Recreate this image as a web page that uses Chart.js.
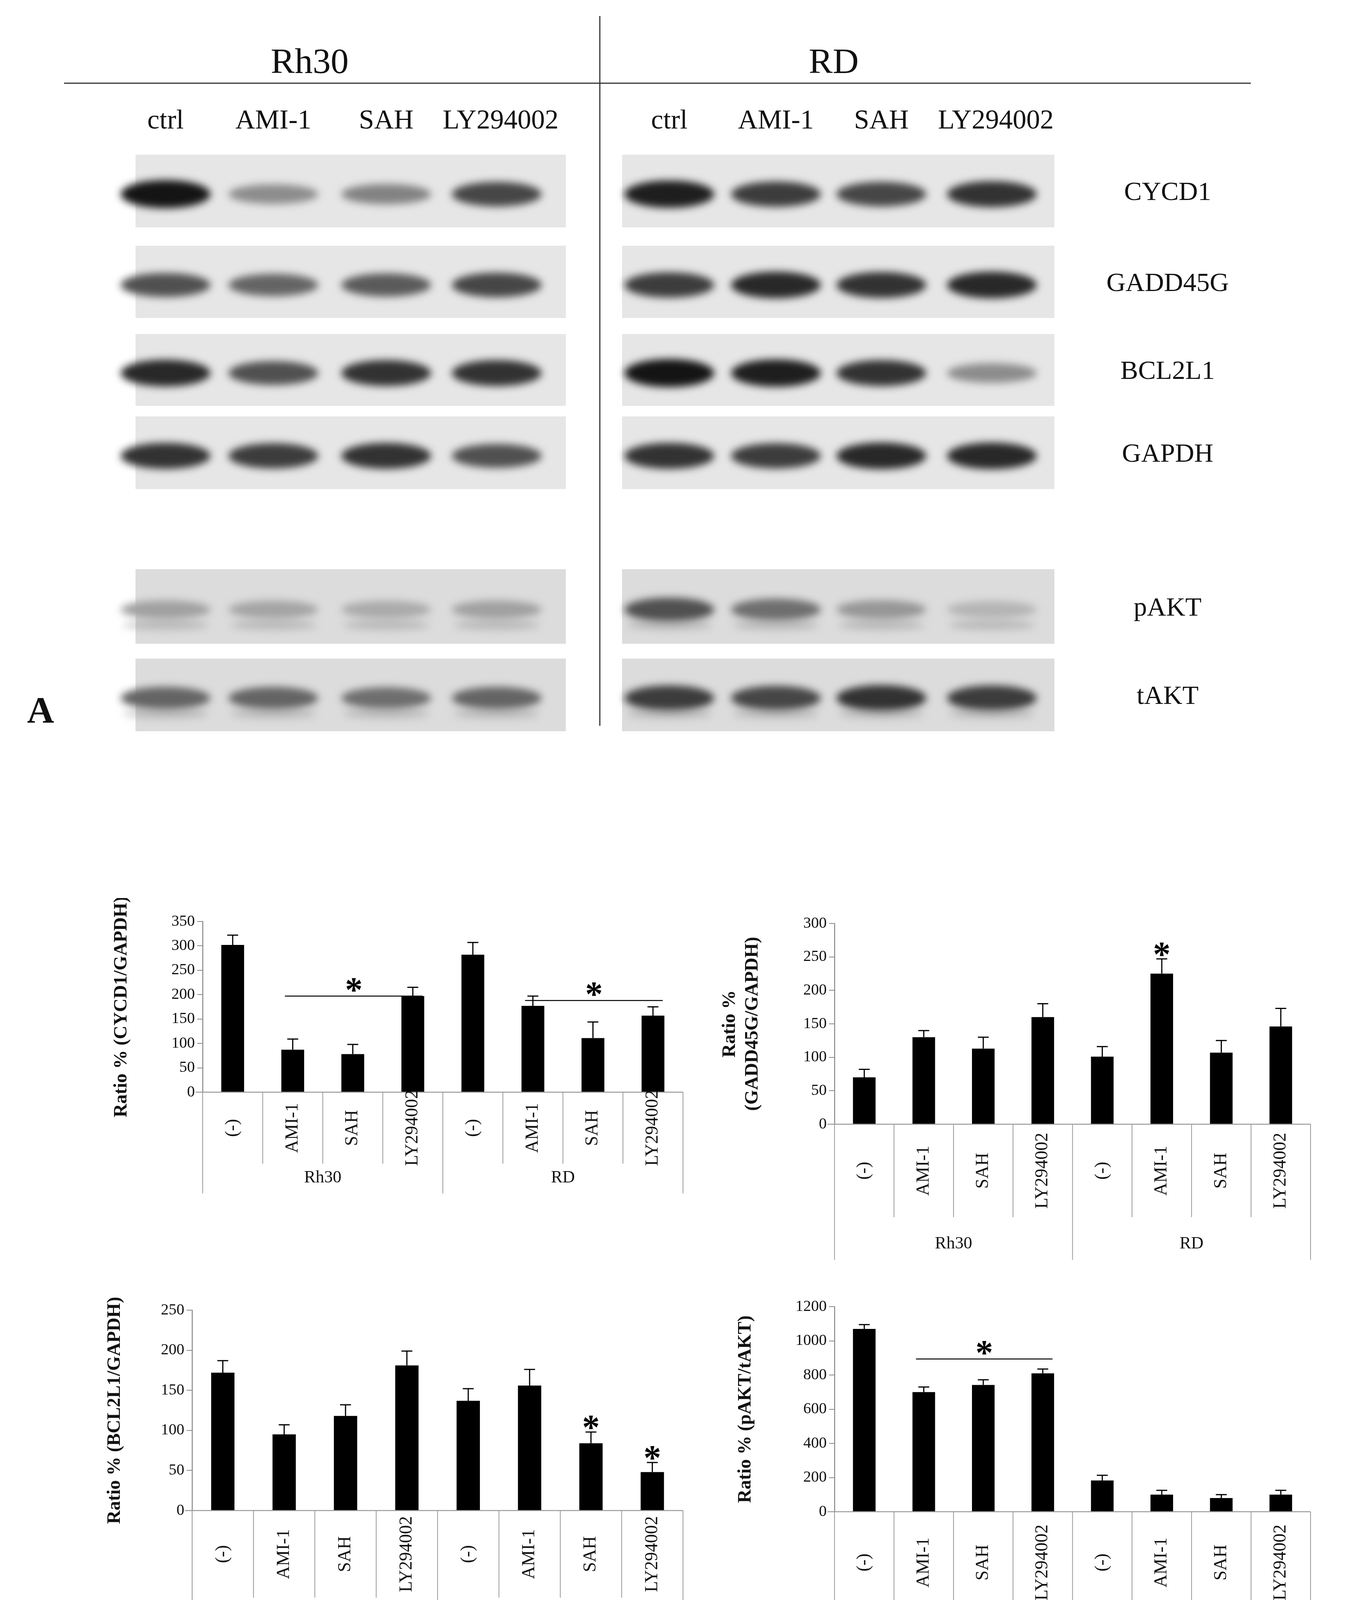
<!DOCTYPE html>
<html><head><meta charset="utf-8">
<script src="https://cdn.jsdelivr.net/npm/chart.js@4.4.1/dist/chart.umd.min.js"></script>
<style>
body{margin:0;width:3498px;height:4350px;background:#fff;position:relative;font-family:"Liberation Serif",serif;overflow:hidden}
.t{position:absolute;white-space:nowrap;color:#111}
canvas{position:absolute}
</style></head><body>
<script>
// ---------- data ----------
const treatments = ["(-)", "AMI-1", "SAH", "LY294002", "(-)", "AMI-1", "SAH", "LY294002"];
const groups = ["Rh30", "RD"];
const blotLanes = ["ctrl", "AMI-1", "SAH", "LY294002"];
const blotProteins = ["CYCD1", "GADD45G", "BCL2L1", "GAPDH", "pAKT", "tAKT"];
const cycd1Mean = [302, 87, 78, 197, 282, 177, 111, 157];
const cycd1Err  = [20, 22, 20, 18, 25, 20, 33, 18];
const gaddMean  = [70, 130, 113, 160, 101, 225, 107, 146];
const gaddErr   = [12, 10, 17, 20, 15, 22, 18, 27];
const bclMean   = [172, 95, 118, 181, 137, 156, 84, 48];
const bclErr    = [15, 12, 14, 18, 15, 20, 14, 12];
const aktMean   = [1070, 700, 742, 810, 183, 100, 80, 100];
const aktErr    = [25, 30, 30, 25, 30, 25, 20, 25];
// band darkness per protein: Rh30 lanes then RD lanes
const bandRh30 = [[1,.4,.45,.75],[.7,.6,.65,.75],[.9,.7,.85,.85],[.85,.8,.85,.7],[.3,.28,.25,.3],[.6,.6,.55,.6]];
const bandRD   = [[.95,.8,.75,.85],[.8,.9,.85,.9],[1,.95,.85,.4],[.85,.8,.9,.9],[.7,.55,.35,.2],[.8,.75,.85,.8]];

// ---------- panel A ----------
function txt(s,x,y,size,extra){const d=document.createElement('div');d.className='t';d.textContent=s;
 d.style.cssText+=`left:${x}px;top:${y}px;font-size:${size}px;transform:translate(-50%,-50%);`+(extra||'');document.body.appendChild(d);}
txt("Rh30",793,156,92);txt("RD",2135,156,92);
const lanesX=[[424,700,989,1282],[1714,1987,2257,2550]];
blotLanes.forEach((l,i)=>{txt(l,lanesX[0][i],306,70);txt(l,lanesX[1][i],306,70);});
const rowsY=[[396,582],[629,814],[855,1039],[1066,1252],[1457,1648],[1686,1872]];
blotProteins.forEach((p,i)=>txt(p,2990,(rowsY[i][0]+rowsY[i][1])/2,68));
txt("A",104,1817,96,"font-weight:bold;");
txt("B",60,4277,96,"font-weight:bold;");
const bc=document.createElement('canvas');bc.width=3498;bc.height=1900;bc.style.left='0';bc.style.top='0';document.body.appendChild(bc);
const g=bc.getContext('2d');
g.strokeStyle='#333';g.lineWidth=3;
g.beginPath();g.moveTo(164,213);g.lineTo(3203,213);g.moveTo(1536,41);g.lineTo(1536,1858);g.stroke();
const boxes=[[347,1449],[1593,2700]];
[bandRh30,bandRD].forEach((bands,side)=>{
 rowsY.forEach((r,ri)=>{
  const [x0,x1]=boxes[side];
  g.filter='none';g.fillStyle=ri>=4?'#dcdcdc':'#e6e6e6';g.fillRect(x0,r[0],x1-x0,r[1]-r[0]);
  g.filter='blur(10px)';
  bands[ri].forEach((v,li)=>{
    const cx=lanesX[side][li]+(li===3?-10:0), cy=(r[0]+r[1])/2+8;
    const c=Math.round(220-200*v);
    g.fillStyle=`rgb(${c},${c},${c})`;
    g.beginPath();g.ellipse(cx,cy,115,18+18*v,0,0,Math.PI*2);g.fill();
    if(ri>=4){g.fillStyle='rgba(120,120,120,0.35)';g.beginPath();g.ellipse(cx,cy+40,110,12,0,0,Math.PI*2);g.fill();}
  });
 });
});
g.filter='none';

// ---------- panel B ----------
const plug={id:'extras',afterDatasetsDraw(ch,a,o){
 const c=ch.ctx,x=ch.scales.x,y=ch.scales.y,cfg=ch.options.plugins.extras;
 const ds=ch.data.datasets[0];
 c.save();c.strokeStyle='#000';c.lineWidth=3;
 ds.data.forEach((v,i)=>{const px=x.getPixelForValue(i),top=y.getPixelForValue(v+cfg.err[i]),py=y.getPixelForValue(v);
  c.beginPath();c.moveTo(px,py);c.lineTo(px,top);c.moveTo(px-14,top);c.lineTo(px+14,top);c.stroke();});
 c.font='bold 90px "Liberation Serif"';c.fillStyle='#000';c.textAlign='center';
 (cfg.lines||[]).forEach(l=>{const py=y.getPixelForValue(l.y);const a1=x.getPixelForValue(l.from)-20,a2=x.getPixelForValue(l.to)+25;
  c.lineWidth=2.5;c.beginPath();c.moveTo(a1,py);c.lineTo(a2,py);c.stroke();c.fillText('*',(a1+a2)/2,py+14);});
 (cfg.stars||[]).forEach(i=>{c.fillText('*',x.getPixelForValue(i),y.getPixelForValue(ds.data[i]+cfg.err[i])+18);});
 // category table
 const ca=ch.chartArea,step=(ca.right-ca.left)/8;
 c.strokeStyle='#999';c.lineWidth=2.5;
 c.beginPath();c.moveTo(ca.left-18,ca.bottom);c.lineTo(ca.right,ca.bottom);c.stroke();
 c.lineWidth=2;
 for(let k=0;k<=8;k++){const px=ca.left+k*step;c.beginPath();c.moveTo(px,ca.bottom);
  c.lineTo(px,(k%4===0)?cfg.grpBottom:cfg.sepBottom);c.stroke();}
 c.fillStyle='#111';c.font='46px "Liberation Serif"';
 treatments.forEach((t,i)=>{c.save();c.translate(ca.left+(i+.5)*step,(ca.bottom+cfg.sepBottom)/2);c.rotate(-Math.PI/2);
  c.textAlign='center';c.textBaseline='middle';c.fillText(t,0,0);c.restore();});
 c.textAlign='center';c.textBaseline='middle';c.font='44px "Liberation Serif"';
 groups.forEach((gname,i)=>c.fillText(gname,ca.left+(i*4+2)*step,cfg.grpY));
 c.restore();
}};
function makeChart(o){
 const padTop=60,yW=o.yW;
 const left=o.L-yW,top=o.T-padTop,w=o.R-left+30,h=o.grpBottom-top+10;
 const cv=document.createElement('canvas');cv.width=w;cv.height=h;cv.style.left=left+'px';cv.style.top=top+'px';
 document.body.appendChild(cv);
 new Chart(cv,{type:'bar',data:{labels:treatments,datasets:[{data:o.mean,backgroundColor:'#000',barPercentage:.38,categoryPercentage:1}]},
  options:{responsive:false,animation:false,devicePixelRatio:1,
   layout:{padding:{top:padTop,right:30,bottom:h-padTop-(o.B-o.T),left:0}},
   plugins:{legend:{display:false},tooltip:{enabled:false},
    extras:{err:o.err,lines:o.lines,stars:o.stars,sepBottom:o.sepBottom-top,grpBottom:o.grpBottom-top,grpY:o.grpY-top}},
   scales:{x:{display:false},
    y:{min:0,max:o.max,ticks:{stepSize:o.step,color:'#111',font:{family:'Liberation Serif',size:40},padding:6,callback:v=>String(v)},
     grid:{drawOnChartArea:false,tickLength:14,color:'#888',lineWidth:2},border:{color:'#888',width:2.5},
     title:{display:true,text:o.title,color:'#111',font:{family:'Liberation Serif',size:48,weight:'bold'},padding:{bottom:4}},
     afterFit(s){s.width=yW;}}}},
  plugins:[plug]});
}
makeChart({L:519,R:1749,T:2359,B:2796,sepBottom:2979,grpBottom:3055,grpY:3015,yW:240,max:350,step:50,
 mean:cycd1Mean,err:cycd1Err,title:"Ratio % (CYCD1/GAPDH)",lines:[{from:1,to:3,y:197},{from:5,to:7,y:188}]});
makeChart({L:2137,R:3356,T:2364,B:2878,sepBottom:3116,grpBottom:3225,grpY:3184,yW:300,max:300,step:50,
 mean:gaddMean,err:gaddErr,title:["Ratio %","(GADD45G/GAPDH)"],stars:[5]});
makeChart({L:492,R:1749,T:3354,B:3867,sepBottom:4090,grpBottom:4200,grpY:4187,yW:230,max:250,step:50,
 mean:bclMean,err:bclErr,title:"Ratio % (BCL2L1/GAPDH)",stars:[6,7]});
makeChart({L:2137,R:3356,T:3345,B:3870,sepBottom:4130,grpBottom:4270,grpY:4255,yW:260,max:1200,step:200,
 mean:aktMean,err:aktErr,title:"Ratio % (pAKT/tAKT)",lines:[{from:1,to:3,y:894}]});
</script></body></html>
